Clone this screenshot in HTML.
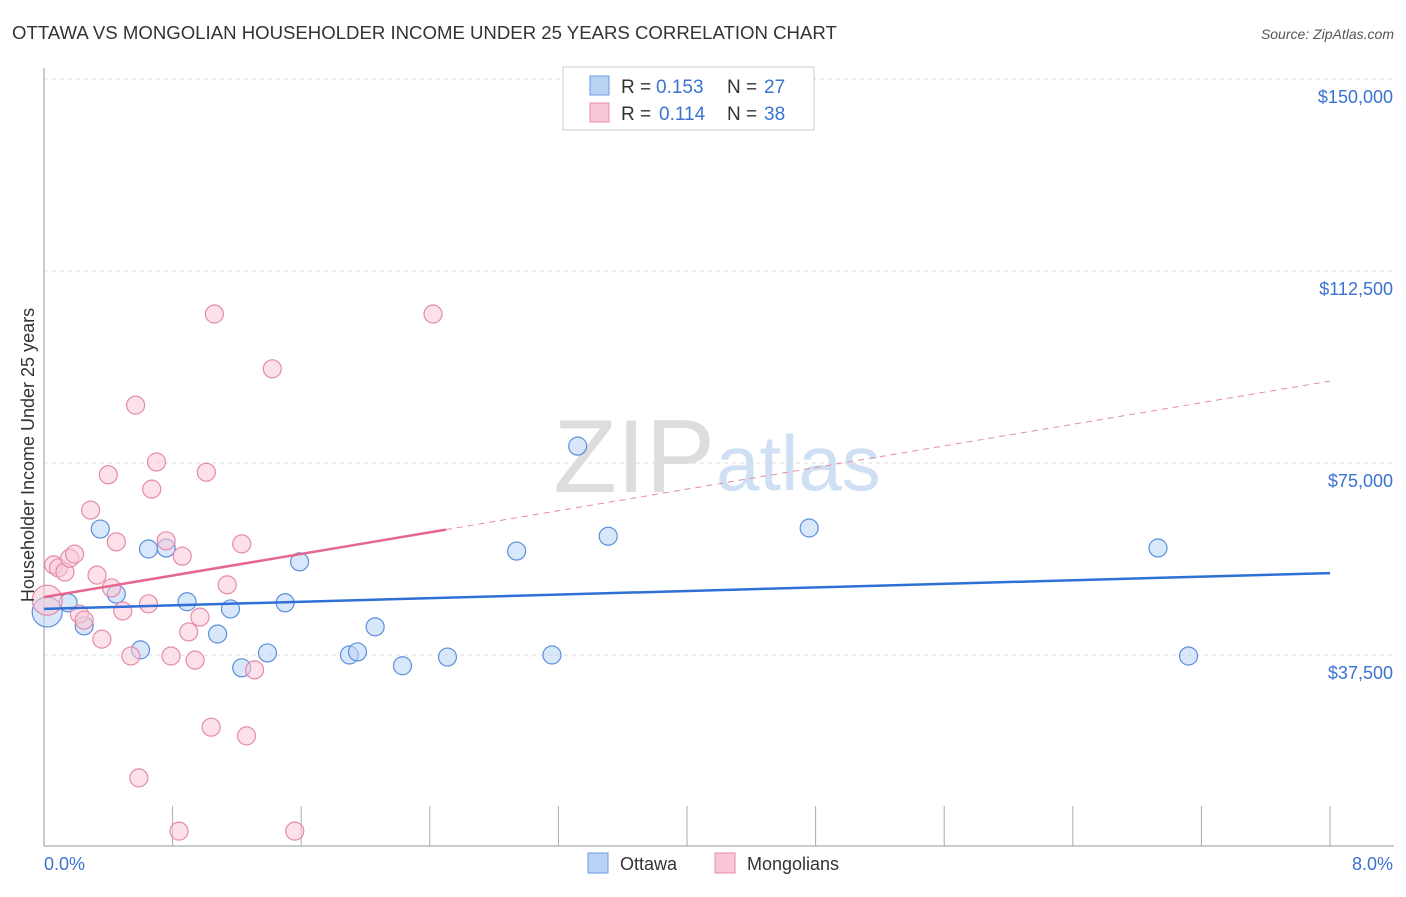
<!DOCTYPE html>
<html><head><meta charset="utf-8"><style>
body{margin:0;background:#fff;font-family:"Liberation Sans",sans-serif}
svg text{font-family:"Liberation Sans",sans-serif}
</style></head><body>
<svg id="c" width="1406" height="892">
<text x="12" y="39" font-size="18.6" fill="#333">OTTAWA VS MONGOLIAN HOUSEHOLDER INCOME UNDER 25 YEARS CORRELATION CHART</text>
<text x="1394" y="39" font-size="14" fill="#555" font-style="italic" text-anchor="end">Source: ZipAtlas.com</text>
<text x="715" y="492" font-size="104" fill="#ddd" text-anchor="end" font-family="Liberation Serif">ZIP</text>
<text x="716" y="490" font-size="78" fill="#d0e0f4">atlas</text>
<g id="grid"></g><g id="axes"></g><g id="marks"></g>
<text transform="translate(34,455) rotate(-90)" font-size="18" fill="#333" text-anchor="middle">Householder Income Under 25 years</text>
<text x="44" y="870" font-size="18" fill="#3b73d1">0.0%</text>
<text x="1393" y="870" font-size="18" fill="#3b73d1" text-anchor="end">8.0%</text>
<g>
<rect x="563" y="67" width="251" height="63" fill="#fff" stroke="#ccc"/>
<rect x="590" y="76" width="19" height="19" fill="#b9d3f5" stroke="#6b9de0"/>
<rect x="590" y="103" width="19" height="19" fill="#f9c8d7" stroke="#e58aa8"/>
<text x="621" y="93" font-size="19" fill="#333">R =</text>
<text x="656" y="93" font-size="19" fill="#3b73d1">0.153</text>
<text x="727" y="93" font-size="19" fill="#333">N =</text>
<text x="764" y="93" font-size="19" fill="#3b73d1">27</text>
<text x="621" y="120" font-size="19" fill="#333">R =</text>
<text x="659" y="120" font-size="19" fill="#3b73d1">0.114</text>
<text x="727" y="120" font-size="19" fill="#333">N =</text>
<text x="764" y="120" font-size="19" fill="#3b73d1">38</text>
</g>
<g>
<rect x="588" y="853" width="20" height="20" fill="#b9d3f5" stroke="#6b9de0"/>
<text x="620" y="870" font-size="18" fill="#333">Ottawa</text>
<rect x="715" y="853" width="20" height="20" fill="#f9c8d7" stroke="#e58aa8"/>
<text x="747" y="870" font-size="18" fill="#333">Mongolians</text>
</g>
</svg>
<script>
const yTicks=[37500,75000,112500,150000];
const yTickLabels=["$37,500","$75,000","$112,500","$150,000"];
const ottawaX=[0.02,0.15,0.25,0.35,0.45,0.60,0.65,0.76,0.89,1.08,1.16,1.23,1.39,1.50,1.59,1.90,1.95,2.06,2.23,2.51,2.94,3.16,3.32,3.51,4.76,6.93,7.12];
const ottawaY=[45.9,47.7,43.2,62.1,49.4,38.5,58.2,58.4,47.9,41.6,46.5,35.0,37.9,47.7,55.7,37.5,38.1,43.0,35.4,37.1,57.8,37.5,78.3,60.7,62.3,58.4,37.3];
const mongX=[0.02,0.06,0.09,0.13,0.16,0.19,0.22,0.25,0.29,0.33,0.36,0.40,0.42,0.45,0.49,0.54,0.57,0.59,0.65,0.67,0.70,0.76,0.79,0.84,0.86,0.90,0.94,0.97,1.01,1.04,1.06,1.14,1.23,1.26,1.31,1.42,1.56,2.42];
const mongY=[48.2,55.1,54.5,53.7,56.4,57.2,45.5,44.3,65.8,53.1,40.6,72.7,50.6,59.6,46.1,37.3,86.3,13.5,47.5,69.9,75.2,59.8,37.3,3.1,56.8,42.0,36.5,44.9,73.2,23.4,104.1,51.2,59.2,21.7,34.6,93.4,3.1,104.1];
const ottawaTrend=[46.5,53.5];
const mongTrend=[48.8,91.0];
const mongSolidEnd=2.5;
const X=p=>44+p*160.75, Y=v=>847-v*192/37500;
const ns="http://www.w3.org/2000/svg";
function mk(t,a,p){const e=document.createElementNS(ns,t);for(const k in a)e.setAttribute(k,a[k]);p.appendChild(e);return e;}
const grid=document.getElementById('grid'),axes=document.getElementById('axes'),marks=document.getElementById('marks');
yTicks.forEach((v,i)=>{
 const l=mk('line',{x1:44,x2:1394,y1:Y(v),y2:Y(v),stroke:'#ddd','stroke-dasharray':'4,4'},grid);
 
 
 const t=mk('text',{x:1393,y:Y(v)+24,'font-size':18,fill:'#3b73d1','text-anchor':'end'},grid);
 t.textContent=yTickLabels[i];
 
 
});
mk('line',{x1:44,x2:44,y1:68,y2:846,stroke:'#999'},axes);
mk('line',{x1:44,x2:1394,y1:846,y2:846,stroke:'#999'},axes);
for(let i=1;i<=10;i++){const tk=mk('line',{x1:X(i*0.8),x2:X(i*0.8),y1:806,y2:846,stroke:'#aaa'},axes);
 
 }
function dots(xs,ys,fill,stroke,name){
 xs.forEach((x,i)=>{const big=i===0;const c=mk('circle',{cx:X(x),cy:Y(ys[i]*1000),r:big?15:9,fill:fill,'fill-opacity':0.55,stroke:stroke,'stroke-width':1.2},marks);
 
 });
}
dots(ottawaX,ottawaY,'#b9d3f5','#5b8fdc','ottawa-point');
dots(mongX,mongY,'#f9c8d7','#e58aa8','mongolian-point');
const bt=mk('line',{x1:X(0),x2:X(8),y1:Y(ottawaTrend[0]*1000),y2:Y(ottawaTrend[1]*1000),stroke:'#2f6fd6','stroke-width':2.5},marks);


const mv=p=>mongTrend[0]+(mongTrend[1]-mongTrend[0])*p/8;
const pt=mk('line',{x1:X(0),x2:X(mongSolidEnd),y1:Y(mv(0)*1000),y2:Y(mv(mongSolidEnd)*1000),stroke:'#e5668f','stroke-width':2.5},marks);


const pd=mk('line',{x1:X(mongSolidEnd),x2:X(8),y1:Y(mv(mongSolidEnd)*1000),y2:Y(mv(8)*1000),stroke:'#e58aa8','stroke-width':1,'stroke-dasharray':'6,5'},marks);


</script>
</body></html>
